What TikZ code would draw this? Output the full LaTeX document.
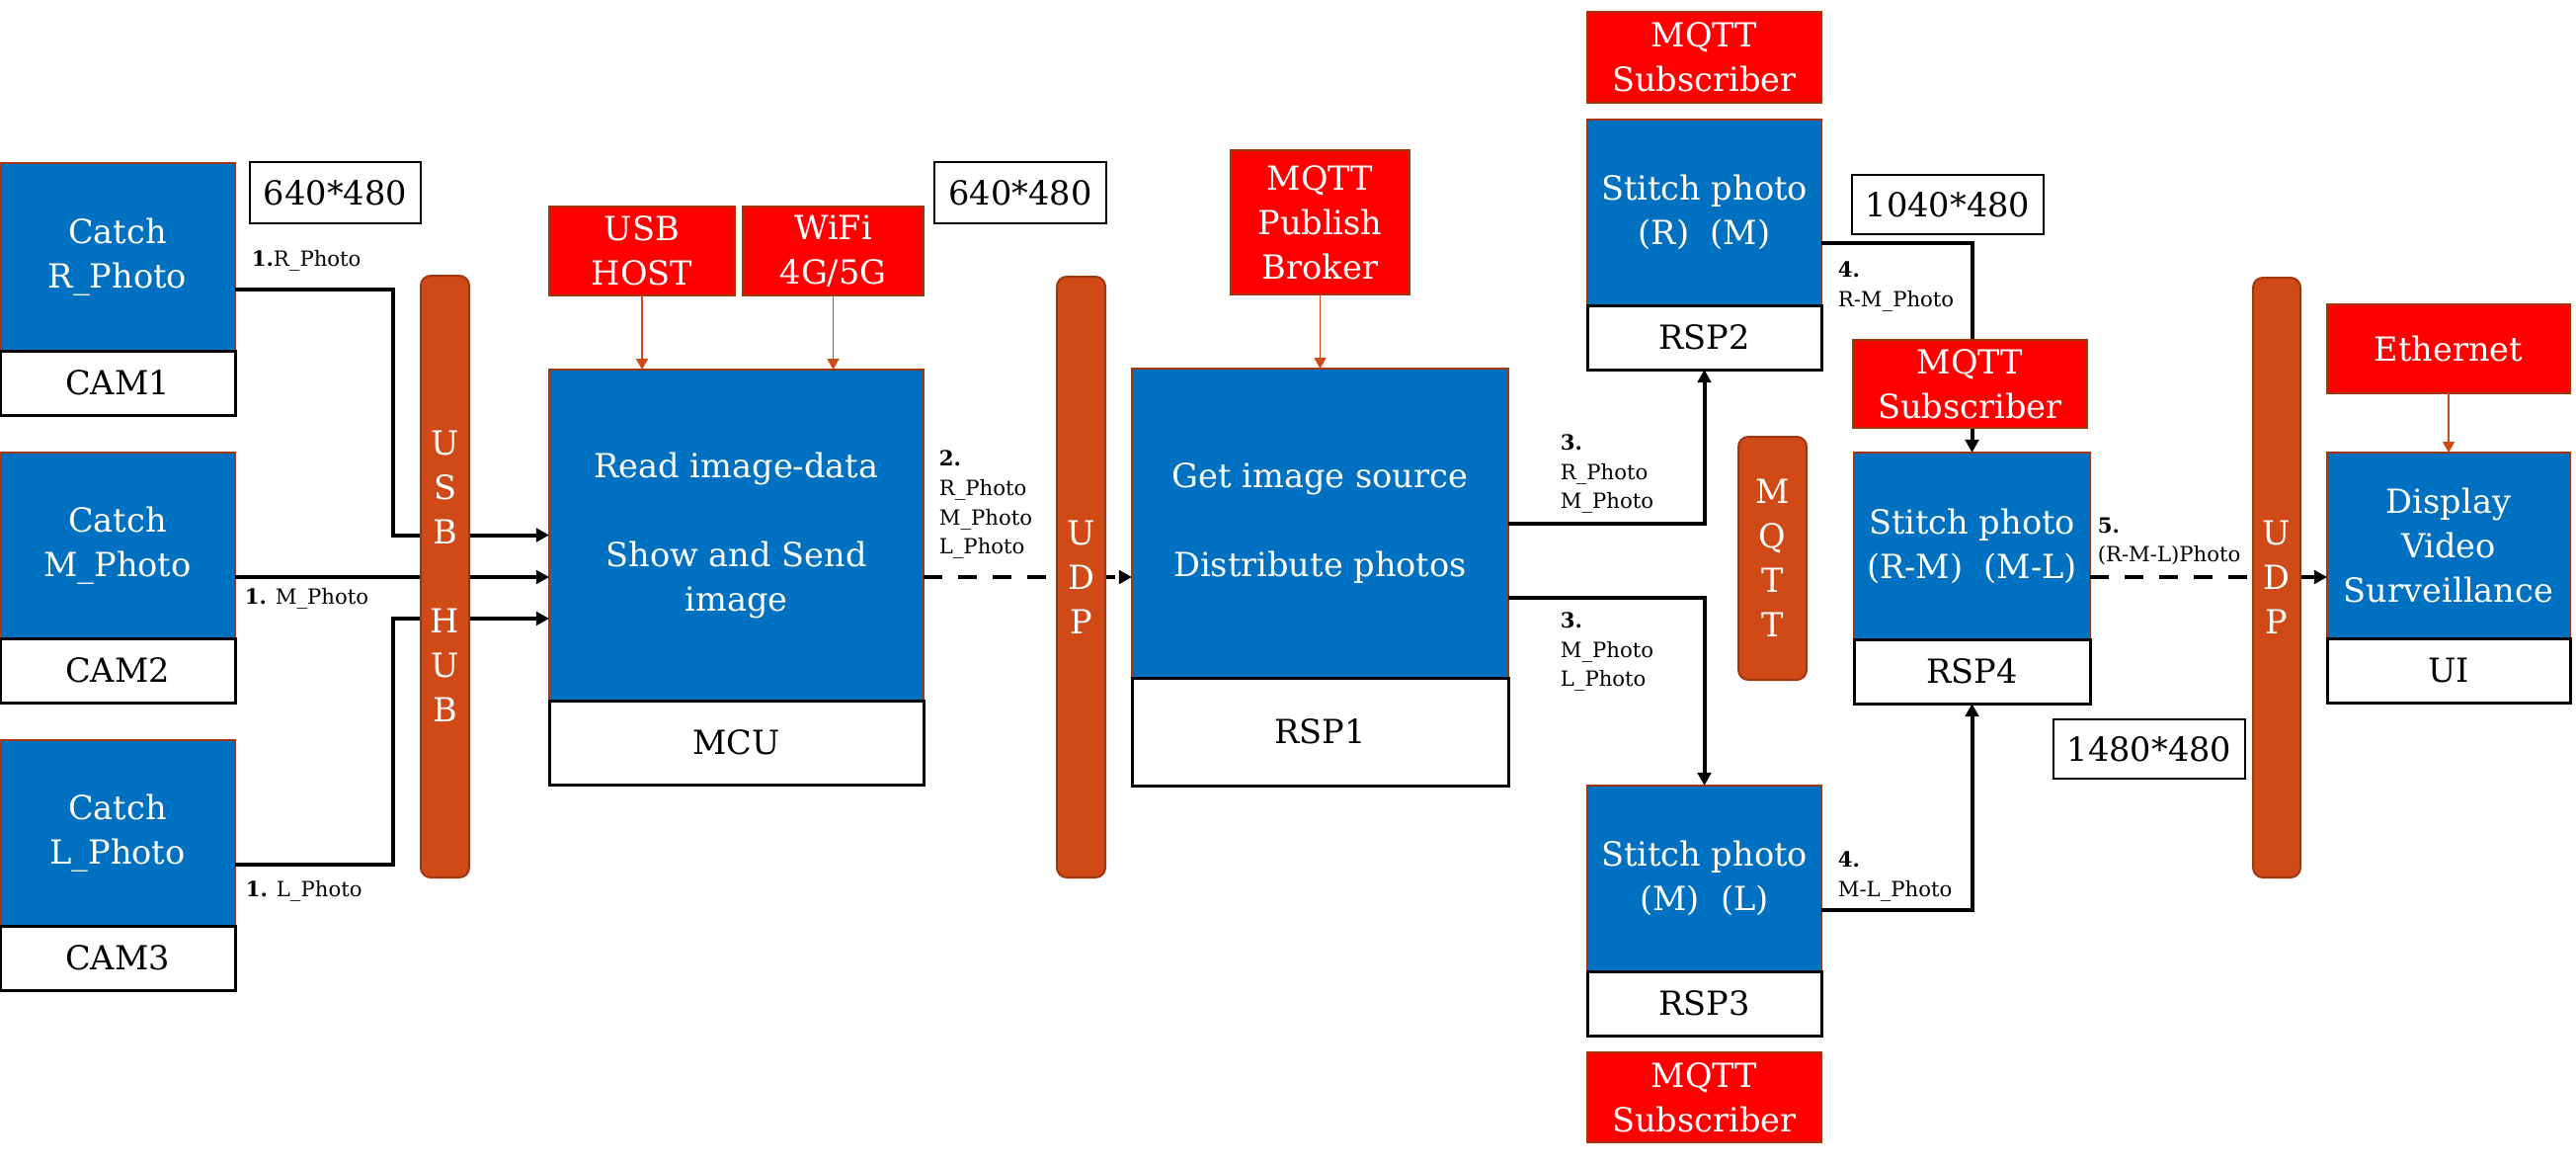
\documentclass[tikz,border=0pt]{standalone}
\usepackage{fontspec}
\setmainfont{DejaVu Serif}
\usetikzlibrary{arrows.meta,calc}
\definecolor{myblue}{RGB}{0,112,192}
\definecolor{bord}{RGB}{160,55,15}
\definecolor{barc}{RGB}{208,74,24}
\definecolor{myred}{RGB}{255,0,0}
\newcommand{\mainf}{\fontsize{8.4pt}{11.25pt}\selectfont}
\newcommand{\smallf}{\fontsize{5.3pt}{7.4pt}\selectfont}
\tikzset{
 rect/.style n args={4}{at={({(#1+#3)/2},{(#2+#4)/2})}, minimum width={(#3-#1)*0.25pt}, minimum height={(#4-#2)*0.25pt}},
 blk/.style={draw=bord, line width=0.5pt, fill=myblue, text=white, inner sep=0pt, outer sep=0pt, align=center, font=\mainf},
 lbl/.style={draw=black, line width=0.75pt, fill=white, inner sep=0pt, outer sep=0pt, align=center, font=\mainf},
 redb/.style={draw=bord, line width=0.5pt, fill=myred, text=white, inner sep=0pt, outer sep=0pt, align=center, font=\mainf},
 bar/.style={draw=bord, line width=0.5pt, fill=barc, text=white, rounded corners=2.5pt, inner sep=0pt, outer sep=0pt, align=center, font=\mainf},
 res/.style={draw=black, line width=0.6pt, fill=white, inner sep=0pt, outer sep=0pt, align=center, font=\mainf},
 conn/.style={line width=1pt, -{Triangle[length=3.3pt,width=3.4pt]}},
 dconn/.style={conn, dash pattern=on 4.75pt off 4pt},
 thinarr/.style={draw=barc, line width=0.3pt, -{Triangle[length=2.7pt,width=3pt]}},
 smalllbl/.style={font=\smallf, inner sep=0pt, align=left, anchor=west},
}
\begin{document}
\begin{tikzpicture}[x=0.25pt,y=-0.25pt]
\fill[white, use as bounding box] (0,0) rectangle (2608,1179);

% cameras
\node[blk, rect={0}{165}{238}{355}] (cam1) {Catch\\R\_Photo};
\node[lbl, rect={0}{355}{238}{420}] (cam1l) {CAM1};
\node[blk, rect={0}{458}{238}{646}] (cam2) {Catch\\M\_Photo};
\node[lbl, rect={0}{646}{238}{711}] (cam2l) {CAM2};
\node[blk, rect={0}{749}{238}{937}] (cam3) {Catch\\L\_Photo};
\node[lbl, rect={0}{937}{238}{1002}] (cam3l) {CAM3};
\node[res, rect={253}{164}{426}{226}] (res1) {640*480};

% MCU
\node[redb, rect={556}{209}{744}{299}] (usbhost) {USB\\HOST};
\node[redb, rect={752}{209}{935}{299}] (wifi) {WiFi\\4G/5G};
\node[blk, rect={556}{374}{935}{709}] (mcu) {Read image-data\\[11.25pt]Show and Send\\image};
\node[lbl, rect={556}{709}{935}{794}] (mcul) {MCU};
\node[res, rect={946}{164}{1120}{226}] (res2) {640*480};

% RSP1
\node[redb, rect={1246}{152}{1427}{298}] (broker) {MQTT\\Publish\\Broker};
\node[blk, rect={1146}{373}{1527}{686}] (rsp1) {Get image source\\[11.25pt]Distribute photos};
\node[lbl, rect={1146}{686}{1527}{795}] (rsp1l) {RSP1};

% RSP2
\node[redb, rect={1607}{12}{1844}{104}] (sub1) {MQTT\\Subscriber};
\node[blk, rect={1607}{121}{1844}{309}] (rsp2) {Stitch photo\\(R)\ \ (M)};
\node[lbl, rect={1607}{309}{1844}{374}] (rsp2l) {RSP2};
\node[res, rect={1875}{177}{2069}{237}] (res3) {1040*480};

% RSP3
\node[blk, rect={1607}{795}{1844}{983}] (rsp3) {Stitch photo\\(M)\ \ (L)};
\node[lbl, rect={1607}{983}{1844}{1048}] (rsp3l) {RSP3};
\node[redb, rect={1607}{1065}{1844}{1156}] (sub3) {MQTT\\Subscriber};

% RSP4
\node[blk, rect={1877}{458}{2116}{647}] (rsp4) {Stitch photo\\(R-M)\ \ (M-L)};
\node[lbl, rect={1877}{647}{2116}{712}] (rsp4l) {RSP4};
\node[res, rect={2079}{728}{2273}{788}] (res4) {1480*480};

% UI
\node[redb, rect={2356}{308}{2602}{398}] (eth) {Ethernet};
\node[blk, rect={2356}{458}{2602}{646}] (ui) {Display\\Video\\Surveillance};
\node[lbl, rect={2356}{646}{2602}{711}] (uil) {UI};

% connectors
\draw[conn] ($(cam1.east)+(0,33)$) -- ($(cam1.east)+(160,33)$) |- (mcu.west);
\draw[conn] ($(cam2.east)+(0,32)$) -- ($(mcu.west)+(0,42.5)$);
\draw[conn] ($(cam3.east)+(0,32)$) -- ($(cam3.east)+(160,32)$) |- ($(mcu.west)+(0,84.5)$);

\coordinate (d1) at ($(mcu.east)+(0,42.5)$);
\draw[dconn] (d1) -- (d1 -| rsp1.west);

\draw[conn] ($(rsp1.east)+(0,0.5)$) -| (rsp2l.south);
\draw[conn] ($(rsp1.east)+(0,75.5)$) -| (rsp3.north);
\draw[conn] ($(rsp2.east)+(0,31)$) -| (rsp4.north);
\draw[conn] ($(rsp3.east)+(0,32)$) -| (rsp4l.south);

\coordinate (d2) at ($(rsp4.east)+(0,31.5)$);
\draw[dconn] (d2) -- (d2 -| ui.west);

\draw[thinarr] (usbhost.south) -- (usbhost.south |- mcu.north);
\draw[thinarr] (wifi.south) -- (wifi.south |- mcu.north);
\draw[thinarr] (broker.south) -- (broker.south |- rsp1.north);
\draw[thinarr] (eth.south) -- (eth.south |- ui.north);

% bars (on top of connectors)
\node[bar, rect={426}{279}{475}{888}] (usbhub) {U\\S\\B\\[11.25pt]H\\U\\B};
\node[bar, rect={1070}{280}{1119}{888}] (udp1) {U\\D\\P};
\node[bar, rect={2281}{281}{2329}{888}] (udp2) {U\\D\\P};
\node[bar, rect={1760}{442}{1829}{688}] (mqttbar) {M\\Q\\T\\T};
\node[redb, rect={1876}{344}{2113}{433}] (sub2) {MQTT\\Subscriber};

% connector labels
\node[smalllbl] (l1) at (254,264) {\textbf{1.}R\_Photo};
\node[smalllbl] (l2) at (247,606) {\textbf{1.} M\_Photo};
\node[smalllbl] (l3) at (248,902) {\textbf{1.} L\_Photo};
\node[smalllbl] (l4) at (950,511) {\textbf{2.}\\R\_Photo\\M\_Photo\\L\_Photo};
\node[smalllbl] (l5) at (1579,480) {\textbf{3.}\\R\_Photo\\M\_Photo};
\node[smalllbl] (l6) at (1579,660) {\textbf{3.}\\M\_Photo\\L\_Photo};
\node[smalllbl] (l7) at (1860,290) {\textbf{4.}\\R-M\_Photo};
\node[smalllbl] (l8) at (1860,887) {\textbf{4.}\\M-L\_Photo};
\node[smalllbl] (l9) at (2123,548) {\textbf{5.}\\(R-M-L)Photo};
\end{tikzpicture}
\end{document}
